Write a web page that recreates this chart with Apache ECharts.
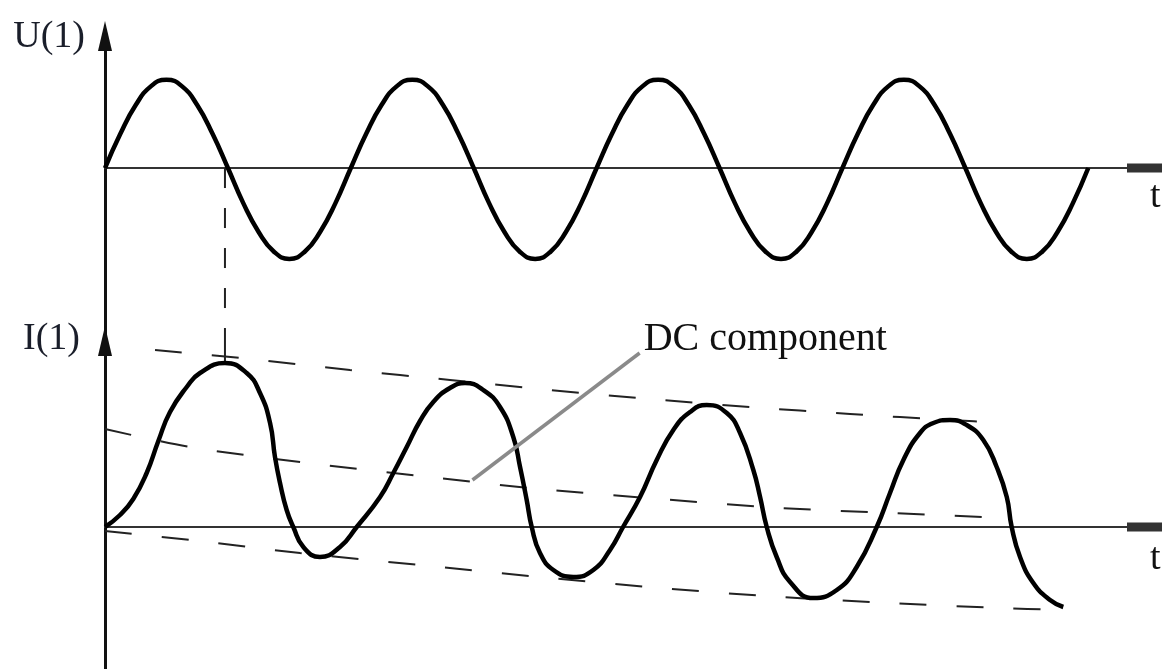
<!DOCTYPE html>
<html><head><meta charset="utf-8">
<script src="https://cdn.jsdelivr.net/npm/echarts@6/dist/echarts.min.js"></script>
<style>html,body{margin:0;padding:0;background:#fff}#c{width:1162px;height:669px}</style>
</head><body><div id="c"></div>
<script>
// time axis in ms (50 Hz: one period = 20 ms)
const voltT = [0,1.25,2.5,3.75,5,6.25,7.5,8.75,10,11.25,12.5,13.75,15,16.25,17.5,18.75,
  20,21.25,22.5,23.75,25,26.25,27.5,28.75,30,31.25,32.5,33.75,35,36.25,37.5,38.75,
  40,41.25,42.5,43.75,45,46.25,47.5,48.75,50,51.25,52.5,53.75,55,56.25,57.5,58.75,
  60,61.25,62.5,63.75,65,66.25,67.5,68.75,70,71.25,72.5,73.75,75,76.25,77.5,78.75,80];
const voltU = [0,0.38,0.70,0.91,0.98,0.91,0.70,0.38,0,-0.39,-0.71,-0.93,-1.01,-0.93,-0.71,-0.39,
  0,0.38,0.70,0.91,0.98,0.91,0.70,0.38,0,-0.39,-0.71,-0.93,-1.01,-0.93,-0.71,-0.39,
  0,0.38,0.70,0.91,0.98,0.91,0.70,0.38,0,-0.39,-0.71,-0.93,-1.01,-0.93,-0.71,-0.39,
  0,0.38,0.70,0.91,0.98,0.91,0.70,0.38,0,-0.39,-0.71,-0.93,-1.01,-0.93,-0.71,-0.39,0];

const currT = [0,1.22,2.30,3.39,4.34,5.29,6.65,7.73,9.76,11.53,12.61,13.43,13.83,14.24,14.78,15.32,16.14,17.49,19.12,20.48,22.38,23.46,24.55,25.63,26.71,28.07,29.29,30.78,32.14,33.22,33.77,34.31,34.72,35.39,36.48,38.10,39.73,41.09,42.15,43.53,44.89,46.24,47.60,48.96,50.59,51.67,52.75,53.30,53.84,54.65,55.74,57.63,59.54,61.16,62.79,63.87,64.96,66.31,67.40,68.75,70.11,71.46,72.55,73.37,73.77,74.45,75.53,76.89,77.97];
const currI = [0,0.12,0.28,0.54,0.86,1.15,1.40,1.54,1.64,1.54,1.34,1.04,0.70,0.44,0.17,0.00,-0.20,-0.30,-0.20,0.00,0.30,0.54,0.80,1.06,1.25,1.39,1.44,1.37,1.20,0.90,0.60,0.27,0.00,-0.26,-0.43,-0.50,-0.43,-0.23,0.00,0.30,0.67,0.97,1.15,1.22,1.14,0.94,0.57,0.30,0.00,-0.30,-0.55,-0.71,-0.63,-0.40,0.00,0.34,0.67,0.94,1.04,1.07,1.02,0.87,0.60,0.30,0.00,-0.30,-0.56,-0.73,-0.80];

const upperT = [4.07,11.80,19.93,28.07,36.21,44.35,52.48,60.62,68.75,73.23];
const upperI = [1.77,1.68,1.57,1.47,1.37,1.28,1.20,1.13,1.07,1.04];
const dcT = [0,6.92,15.87,25.63,35.39,45.16,54.92,63.87,73.23];
const dcI = [0.98,0.80,0.65,0.51,0.38,0.28,0.19,0.14,0.09];
const lowerT = [0,6.92,15.87,25.63,35.39,45.16,54.92,63.87,72.82,77.95];
const lowerI = [-0.04,-0.13,-0.26,-0.38,-0.50,-0.61,-0.70,-0.76,-0.81,-0.83];

const linkT = 9.76;          // voltage zero crossing = first current peak
const linkPeak = 1.64;
const leaderT = [29.9, 43.5];
const leaderI = [0.47, 1.74];

const uRange = [-1.922, 1.467];
const iRange = [-1.42, 1.86];
const tRange = [0, 86];

const labelU = 'U(1)', labelI = 'I(1)', labelT = 't', labelDC = 'DC component';

const zip = (a, b) => a.map((v, k) => [v, b[k]]);
const FONT = 'Liberation Serif';

function xAx(g) {
  return {
    gridIndex: g, type: 'value', min: tRange[0], max: tRange[1],
    axisLine: { onZero: true, lineStyle: { color: '#333', width: 2 },
      symbol: ['none', 'rect'], symbolSize: [9, 40], symbolOffset: [0, -15] },
    axisTick: { show: false }, axisLabel: { show: false }, splitLine: { show: false },
    name: labelT, nameLocation: 'end', nameGap: -12,
    nameTextStyle: { fontFamily: FONT, fontSize: 38, color: '#111', align: 'left', verticalAlign: 'top',
      padding: [g === 0 ? 10 : 13, 0, 0, 0] }
  };
}
function yAx(g, r, name, padR, gap) {
  return {
    gridIndex: g, type: 'value', min: r[0], max: r[1],
    axisLine: { onZero: true, lineStyle: { color: '#111', width: 3 },
      symbol: ['none', 'triangle'], symbolSize: [14, 30] },
    axisTick: { show: false }, axisLabel: { show: false }, splitLine: { show: false },
    name: name, nameLocation: 'end', nameGap: gap,
    nameTextStyle: { fontFamily: FONT, fontSize: 38, color: '#1a1e2a', align: 'right', verticalAlign: 'middle',
      padding: [0, padR, 0, 0] }
  };
}
const dash = (data, xi, extra) => Object.assign({
  type: 'line', xAxisIndex: xi, yAxisIndex: xi, data: data, symbol: 'none', silent: true,
  lineStyle: { color: '#222', width: 2, type: [27, 30] }, smooth: 0.3, z: 2
}, extra || {});

const chart = echarts.init(document.getElementById('c'), null, { renderer: 'canvas' });
chart.setOption({
  animation: false,
  backgroundColor: '#fff',
  grid: [
    { left: 105, right: 0, top: 36, height: 305, containLabel: false },
    { left: 105, right: 0, top: 341, bottom: 0, containLabel: false }
  ],
  xAxis: [xAx(0), xAx(1)],
  yAxis: [yAx(0, uRange, labelU, 20, -1), yAx(1, iRange, labelI, 25, 2)],
  series: [
    { type: 'line', xAxisIndex: 0, yAxisIndex: 0, data: zip(voltT, voltU), symbol: 'none', smooth: 0.5,
      lineStyle: { color: '#000', width: 4.5 }, z: 3 },
    dash([[linkT, 0], [linkT, uRange[0]]], 0, { smooth: false, lineStyle: { color: '#222', width: 2, type: [20, 20] } }),
    dash([[linkT, iRange[1]], [linkT, linkPeak]], 1, { smooth: false, lineStyle: { color: '#222', width: 2, type: [20, 20] } }),
    dash(zip(upperT, upperI), 1),
    dash(zip(dcT, dcI), 1),
    dash(zip(lowerT, lowerI), 1),
    { type: 'line', xAxisIndex: 1, yAxisIndex: 1, data: zip(currT, currI), symbol: 'none', smooth: 0.5,
      lineStyle: { color: '#000', width: 4.5 }, z: 3 },
    { type: 'line', xAxisIndex: 1, yAxisIndex: 1, data: zip(leaderT, leaderI), symbol: 'none',
      lineStyle: { color: '#8a8a8a', width: 3.5 }, z: 4,
      endLabel: { show: true, formatter: labelDC, fontFamily: FONT, fontSize: 40, color: '#111',
        distance: 4, offset: [0, -14] } }
  ]
});
</script></body></html>
